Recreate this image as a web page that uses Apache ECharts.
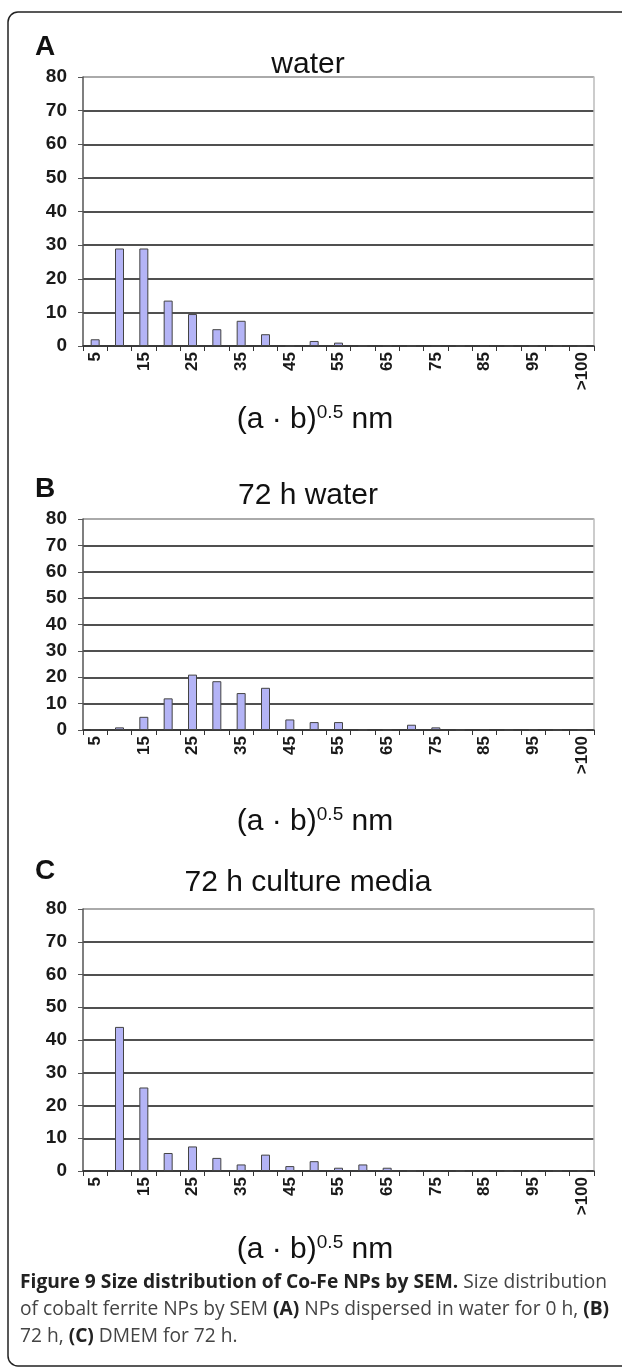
<!DOCTYPE html>
<html><head><meta charset="utf-8">
<script src="https://cdn.jsdelivr.net/npm/echarts@6/dist/echarts.min.js"></script>
<style>html,body{margin:0;padding:0;background:#fff}#c{width:622px;height:1371px}</style>
</head><body><div id="c"></div>
<script>
const categories = ['5','10','15','20','25','30','35','40','45','50','55','60','65','70','75','80','85','90','95','100','>100'];
const waterA   = [2,29,29,13.5,9.5,5,7.5,3.5,0,1.5,1,0,0,0,0,0,0,0,0,0,0];
const water72  = [0,1,5,12,21,18.5,14,16,4,3,3,0,0,2,1,0,0,0,0,0,0];
const culture72= [0,44,25.5,5.5,7.5,4,2,5,1.5,3,1,2,1,0,0,0,0,0,0,0,0];
const panelTitles = ['water','72 h water','72 h culture media'];
const panelLetters = ['A','B','C'];
const yMin = 0, yMax = 80, yStep = 10;

const FONT = "'Liberation Sans', Arial, sans-serif";
const panels = [
  {data: waterA,   top: 77,  height: 269, titleY: 45,  letterY: 28,  nameY: 398},
  {data: water72,  top: 519, height: 211, titleY: 476, letterY: 470, nameY: 800},
  {data: culture72,top: 909, height: 262, titleY: 863, letterY: 852, nameY: 1228}
];

const grid = [], xAxis = [], yAxis = [], series = [], title = [];
panels.forEach((p, i) => {
  grid.push({left: 83, right: 28, top: p.top, height: p.height, containLabel: false});
  xAxis.push({
    type: 'category', gridIndex: i, data: categories, boundaryGap: true,
    axisLine: {lineStyle: {color: '#333', width: 1.5}},
    axisTick: {show: true, interval: 0, length: 5, lineStyle: {color: '#333'}},
    axisLabel: {interval: 1, rotate: 90, fontSize: 17, fontWeight: 'bold', color: '#1a1a1a', fontFamily: FONT, margin: 6}
  });
  const splitColors = [];
  for (let v = yMin; v <= yMax; v += yStep) splitColors.push(v === yMax ? '#aaa' : '#505050');
  yAxis.push({
    type: 'value', gridIndex: i, min: yMin, max: yMax, interval: yStep,
    axisLine: {show: true, lineStyle: {color: '#555', width: 1.5}},
    axisTick: {show: true, length: 5, lineStyle: {color: '#555'}},
    axisLabel: {fontSize: 19, fontWeight: 'bold', color: '#1a1a1a', fontFamily: FONT, margin: 16},
    splitLine: {show: true, lineStyle: {color: splitColors, width: 2}}
  });
  yAxis.push({
    type: 'value', gridIndex: i, min: yMin, max: yMax, interval: yStep, position: 'right',
    axisLine: {show: true, lineStyle: {color: '#bbb', width: 1.5}},
    axisTick: {show: false}, axisLabel: {show: false}, splitLine: {show: false}
  });
  series.push({
    type: 'bar', xAxisIndex: i, yAxisIndex: i * 2, data: p.data, barWidth: 9,
    itemStyle: {color: '#b4b4f6', borderColor: '#444', borderWidth: 1},
    silent: true, animation: false
  });
  title.push({
    text: panelTitles[i], left: 303, top: p.titleY, textAlign: 'center',
    textStyle: {fontSize: 30, fontWeight: 'normal', color: '#111', fontFamily: FONT}
  });
  title.push({
    text: panelLetters[i], left: 30, top: p.letterY,
    textStyle: {fontSize: 28, fontWeight: 'bold', color: '#111', fontFamily: FONT}
  });
  title.push({
    text: '{n|(a · b)}{s|0.5}{n| nm}', left: 310, top: p.nameY, textAlign: 'center',
    textStyle: {fontWeight: 'normal', rich: {
      n: {fontSize: 30, fontWeight: 'normal', color: '#111', fontFamily: FONT, verticalAlign: 'bottom', lineHeight: 32},
      s: {fontSize: 19, fontWeight: 'normal', color: '#111', fontFamily: FONT, verticalAlign: 'top', lineHeight: 32, padding: [0, 0, 12, 0]}
    }}
  });
});

const CAP = "'Open Sans', 'Liberation Sans', Arial, sans-serif";
const chart = echarts.init(document.getElementById('c'), null, {renderer: 'canvas'});
chart.setOption({
  animation: false,
  grid, xAxis, yAxis, series, title,
  graphic: [
    {type: 'rect', shape: {x: 8, y: 12, width: 700, height: 1354, r: 10},
     style: {fill: 'none', stroke: '#222', lineWidth: 1.5}, silent: true, z: 100},
    {type: 'text', left: 20, top: 1273, style: {
      text: '{b|Figure 9 Size distribution of Co-Fe NPs by SEM.}{r| Size distribution}\n{r|of cobalt ferrite NPs by SEM }{b|(A)}{r| NPs dispersed in water for 0 h, }{b|(B)}\n{r|72 h, }{b|(C)}{r| DMEM for 72 h.}',
      rich: {
        b: {fontSize: 19.2, fontWeight: 'bold', fill: '#222', fontFamily: CAP, lineHeight: 27},
        r: {fontSize: 19.2, fill: '#444', fontFamily: CAP, lineHeight: 27}
      }
    }}
  ]
});
</script></body></html>
